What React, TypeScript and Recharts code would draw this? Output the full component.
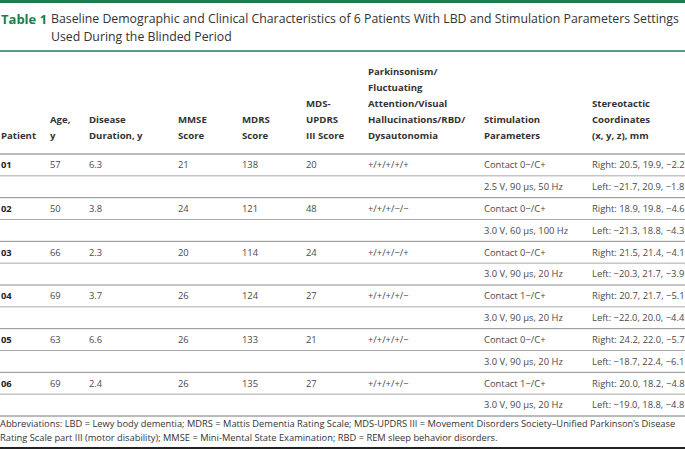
import React from 'react';
import { ScatterChart, Scatter, XAxis, YAxis, ReferenceLine } from 'recharts';

// ---------- data ----------
const patients = ['01', '02', '03', '04', '05', '06'];
const ages = ['57', '50', '66', '69', '63', '69'];
const durations = ['6.3', '3.8', '2.3', '3.7', '6.6', '2.4'];
const mmseScores = ['21', '24', '20', '26', '26', '26'];
const mdrsScores = ['138', '121', '114', '124', '133', '135'];
const updrsScores = ['20', '48', '24', '27', '21', '27'];
const symptoms = ['+/+/+/+/+', '+/+/+/−/−', '+/+/+/−/+', '+/+/+/+/−', '+/+/+/+/−', '+/+/+/+/−'];
const contacts = ['Contact 0−/C+', 'Contact 0−/C+', 'Contact 0−/C+', 'Contact 1−/C+', 'Contact 0−/C+', 'Contact 1−/C+'];
const settings = ['2.5 V, 90 µs, 50 Hz', '3.0 V, 60 µs, 100 Hz', '3.0 V, 90 µs, 20 Hz', '3.0 V, 90 µs, 20 Hz', '3.0 V, 90 µs, 20 Hz', '3.0 V, 90 µs, 20 Hz'];
const rightCoords = ['Right: 20.5, 19.9, −2.2', 'Right: 18.9, 19.8, −4.6', 'Right: 21.5, 21.4, −4.1', 'Right: 20.7, 21.7, −5.1', 'Right: 24.2, 22.0, −5.7', 'Right: 20.0, 18.2, −4.8'];
const leftCoords = ['Left: −21.7, 20.9, −1.8', 'Left: −21.3, 18.8, −4.3', 'Left: −20.3, 21.7, −3.9', 'Left: −22.0, 20.0, −4.4', 'Left: −18.7, 22.4, −6.1', 'Left: −19.0, 18.8, −4.8'];

const headerPatient = ['Patient'];
const headerAge = ['Age,', 'y'];
const headerDuration = ['Disease', 'Duration, y'];
const headerMmse = ['MMSE', 'Score'];
const headerMdrs = ['MDRS', 'Score'];
const headerUpdrs = ['MDS-', 'UPDRS', 'III Score'];
const headerSymptoms = ['Parkinsonism/', 'Fluctuating', 'Attention/Visual', 'Hallucinations/RBD/', 'Dysautonomia'];
const headerStim = ['Stimulation', 'Parameters'];
const headerCoords = ['Stereotactic', 'Coordinates', '(x, y, z), mm'];

const titleLabel = 'Table 1';
const titleLines = [
  'Baseline Demographic and Clinical Characteristics of 6 Patients With LBD and Stimulation Parameters Settings',
  'Used During the Blinded Period',
];
const footnoteLines = [
  'Abbreviations: LBD = Lewy body dementia; MDRS = Mattis Dementia Rating Scale; MDS-UPDRS III = Movement Disorders Society–Unified Parkinson’s Disease',
  'Rating Scale part III (motor disability); MMSE = Mini-Mental State Examination; RBD = REM sleep behavior disorders.',
];

// ---------- layout / style ----------
const W = 685;
const H = 450;
const FONT = '"Open Sans", sans-serif';
const BODY_TOP = 154;
const BODY_BOTTOM = 416;

type Col = { key: string; x: number; header: string[]; bold?: boolean };
const COLUMNS: Col[] = [
  { key: 'patient', x: 1, header: headerPatient, bold: true },
  { key: 'age', x: 50, header: headerAge },
  { key: 'duration', x: 89, header: headerDuration },
  { key: 'mmse', x: 178, header: headerMmse },
  { key: 'mdrs', x: 242, header: headerMdrs },
  { key: 'updrs', x: 306, header: headerUpdrs },
  { key: 'symptoms', x: 368, header: headerSymptoms },
  { key: 'stim', x: 484, header: headerStim },
  { key: 'coords', x: 592, header: headerCoords },
];

// table rows built from the arrays
const tableRows: Record<string, any>[] = [];
patients.forEach((p, i) => {
  tableRows.push({
    row: 2 * i + 1,
    patient: p,
    age: ages[i],
    duration: durations[i],
    mmse: mmseScores[i],
    mdrs: mdrsScores[i],
    updrs: updrsScores[i],
    symptoms: symptoms[i],
    stim: contacts[i],
    coords: rightCoords[i],
  });
  tableRows.push({ row: 2 * i + 2, stim: settings[i], coords: leftCoords[i] });
});
const nRows = tableRows.length;
const separators = Array.from({ length: nRows + 1 }, (_, i) => i + 0.5);

const makeShape = (bold?: boolean) => (props: any) => {
  const { cx, cy, payload } = props;
  return (
    <text
      x={cx}
      y={cy}
      dy="0.35em"
      fontFamily={FONT}
      fontSize={9.4}
      fontWeight={bold ? 700 : 400}
      fill={bold ? '#222' : '#4a4a4a'}
    >
      {payload.label}
    </text>
  );
};

export default function App() {
  return (
    <div style={{ position: 'absolute', left: 0, top: 0, width: W, height: H, background: '#fff', fontFamily: FONT, overflow: 'hidden' }}>
      {/* top green bar */}
      <div style={{ position: 'absolute', left: 0, top: 0, width: W, height: 3, background: '#1f7a4d' }} />
      {/* title */}
      <div style={{ position: 'absolute', left: 1, top: 10, display: 'flex', fontSize: 12.3, lineHeight: '18px', color: '#333' }}>
        <div style={{ width: 50, fontWeight: 700, color: '#1d7d4f', fontSize: 13 }}>{titleLabel}</div>
        <div style={{ whiteSpace: 'nowrap' }}>
          {titleLines.map((t, i) => (
            <div key={i}>{t}</div>
          ))}
        </div>
      </div>
      <div style={{ position: 'absolute', left: 0, top: 50, width: W, height: 1.5, background: '#5f9b80' }} />
      {/* headers */}
      {COLUMNS.map((c) => (
        <div
          key={c.key}
          style={{
            position: 'absolute',
            left: c.x,
            top: 52,
            height: 92,
            display: 'flex',
            flexDirection: 'column',
            justifyContent: 'flex-end',
            fontSize: 9.6,
            fontWeight: 700,
            lineHeight: '16px',
            color: '#333',
            whiteSpace: 'nowrap',
          }}
        >
          {c.header.map((h, i) => (
            <div key={i}>{h}</div>
          ))}
        </div>
      ))}
      {/* body */}
      <div style={{ position: 'absolute', left: 0, top: 0 }}>
        <ScatterChart width={W} height={H} margin={{ top: BODY_TOP, right: 0, bottom: H - BODY_BOTTOM, left: 0 }}>
          <XAxis type="number" dataKey="x" domain={[0, W]} hide />
          <YAxis type="number" dataKey="y" domain={[0.5, nRows + 0.5]} reversed hide />
          {separators.map((s, i) => (
            <ReferenceLine
              key={i}
              y={s}
              stroke={i === 0 || i === nRows ? '#777' : i % 2 === 0 ? '#8c8c8c' : '#aaaaaa'}
              strokeWidth={1}
            />
          ))}
          {COLUMNS.map((c) => (
            <Scatter
              key={c.key}
              isAnimationActive={false}
              data={tableRows
                .filter((r) => r[c.key] != null)
                .map((r) => ({ x: c.x, y: r.row, label: r[c.key] }))}
              shape={makeShape(c.bold)}
            />
          ))}
        </ScatterChart>
      </div>
      {/* footnote */}
      <div style={{ position: 'absolute', left: 0, top: 417, fontSize: 9.3, lineHeight: '14px', color: '#333', whiteSpace: 'nowrap' }}>
        {footnoteLines.map((t, i) => (
          <div key={i}>{t}</div>
        ))}
      </div>
      <div style={{ position: 'absolute', left: 0, top: 447, width: W, height: 1.5, background: '#222' }} />
    </div>
  );
}
